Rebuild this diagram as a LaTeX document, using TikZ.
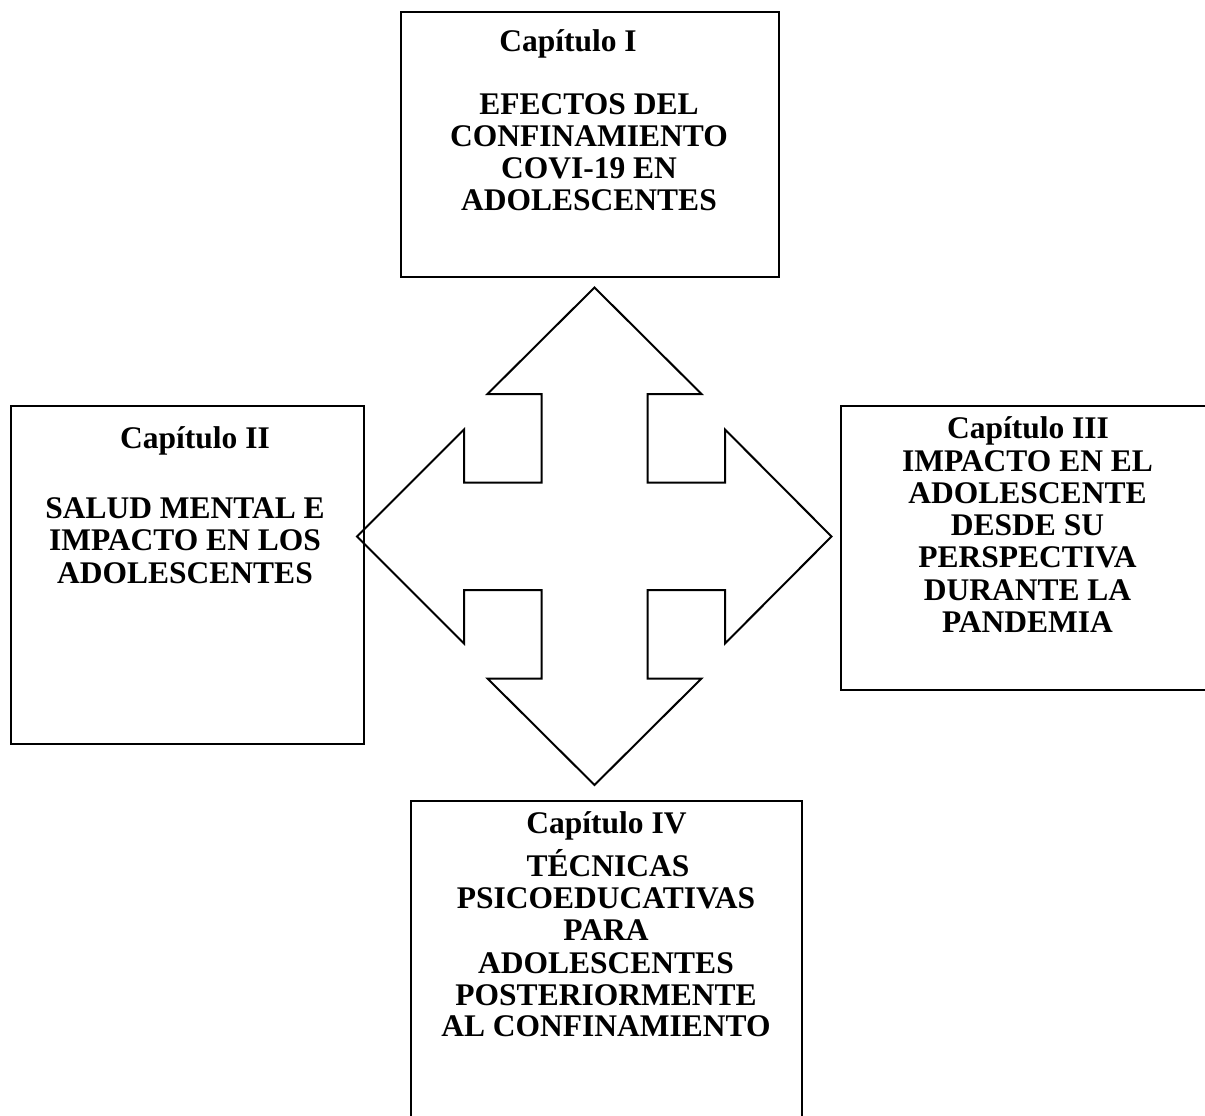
\documentclass[tikz,border=0pt]{standalone}
\usepackage{fontspec}
\setmainfont{Liberation Serif}
\begin{document}
\begin{tikzpicture}[x=1pt,y=-1pt,
  box/.style={draw=black,line width=2.4pt,rectangle,inner sep=0pt,anchor=north west},
  ln/.style={anchor=base,inner sep=0pt,font=\fontsize{31.5}{32}\selectfont\bfseries}]
\useasboundingbox (0,0) rectangle (1205,1116);
% boxes
\node[box,minimum width=378pt,minimum height=265pt] (b1) at (400,11) {};
\node[box,minimum width=352.5pt,minimum height=338pt] (b2) at (10,405) {};
\node[box,minimum width=372pt,minimum height=284pt] (b3) at (840,405) {};
\node[box,minimum width=391pt,minimum height=330pt] (b4) at (410,800) {};
% four-way arrow
\draw[line width=2pt,line join=miter]
  (594.5,287.5) -- (701.5,394) -- (647.5,394) -- (647.5,482.5) -- (725,482.5)
  -- (725,429.5) -- (831.5,536.5) -- (725,643.5) -- (725,590) -- (647.5,590)
  -- (647.5,678.5) -- (701.5,678.5) -- (594.5,785) -- (487.5,678.5) -- (541.5,678.5)
  -- (541.5,590) -- (464,590) -- (464,643.5) -- (357,536.5) -- (464,429.5)
  -- (464,482.5) -- (541.5,482.5) -- (541.5,394) -- (487.5,394) -- cycle;
% top box text
\node[ln] (t1a) at (568,52) {Capítulo I};
\node[ln] (t1b) at (589,114) {EFECTOS DEL};
\node[ln] (t1c) at (589,146.5) {CONFINAMIENTO};
\node[ln] (t1d) at (589,178.5) {COVI-19 EN};
\node[ln] (t1e) at (589,210.5) {ADOLESCENTES};
% left box text
\node[ln] (t2a) at (195,448) {Capítulo II};
\node[ln] (t2b) at (185,518.5) {SALUD MENTAL E};
\node[ln] (t2c) at (185,550.5) {IMPACTO EN LOS};
\node[ln] (t2d) at (185,583) {ADOLESCENTES};
% right box text
\node[ln] (t3a) at (1028,438.5) {Capítulo III};
\node[ln] (t3b) at (1027.5,471) {IMPACTO EN EL};
\node[ln] (t3c) at (1027.5,503.3) {ADOLESCENTE};
\node[ln] (t3d) at (1027.5,535.7) {DESDE SU};
\node[ln] (t3e) at (1027.5,567.8) {PERSPECTIVA};
\node[ln] (t3f) at (1027.5,600) {DURANTE LA};
\node[ln] (t3g) at (1027.5,632.3) {PANDEMIA};
% bottom box text
\node[ln] (t4a) at (606.5,833.3) {Capítulo IV};
\node[ln] (t4b) at (608,876.7) {TÉCNICAS};
\node[ln] (t4c) at (606,908.3) {PSICOEDUCATIVAS};
\node[ln] (t4d) at (606,940.3) {PARA};
\node[ln] (t4e) at (606,973) {ADOLESCENTES};
\node[ln] (t4f) at (606,1005) {POSTERIORMENTE};
\node[ln] (t4g) at (606,1036.7) {AL CONFINAMIENTO};
\end{tikzpicture}
\end{document}
